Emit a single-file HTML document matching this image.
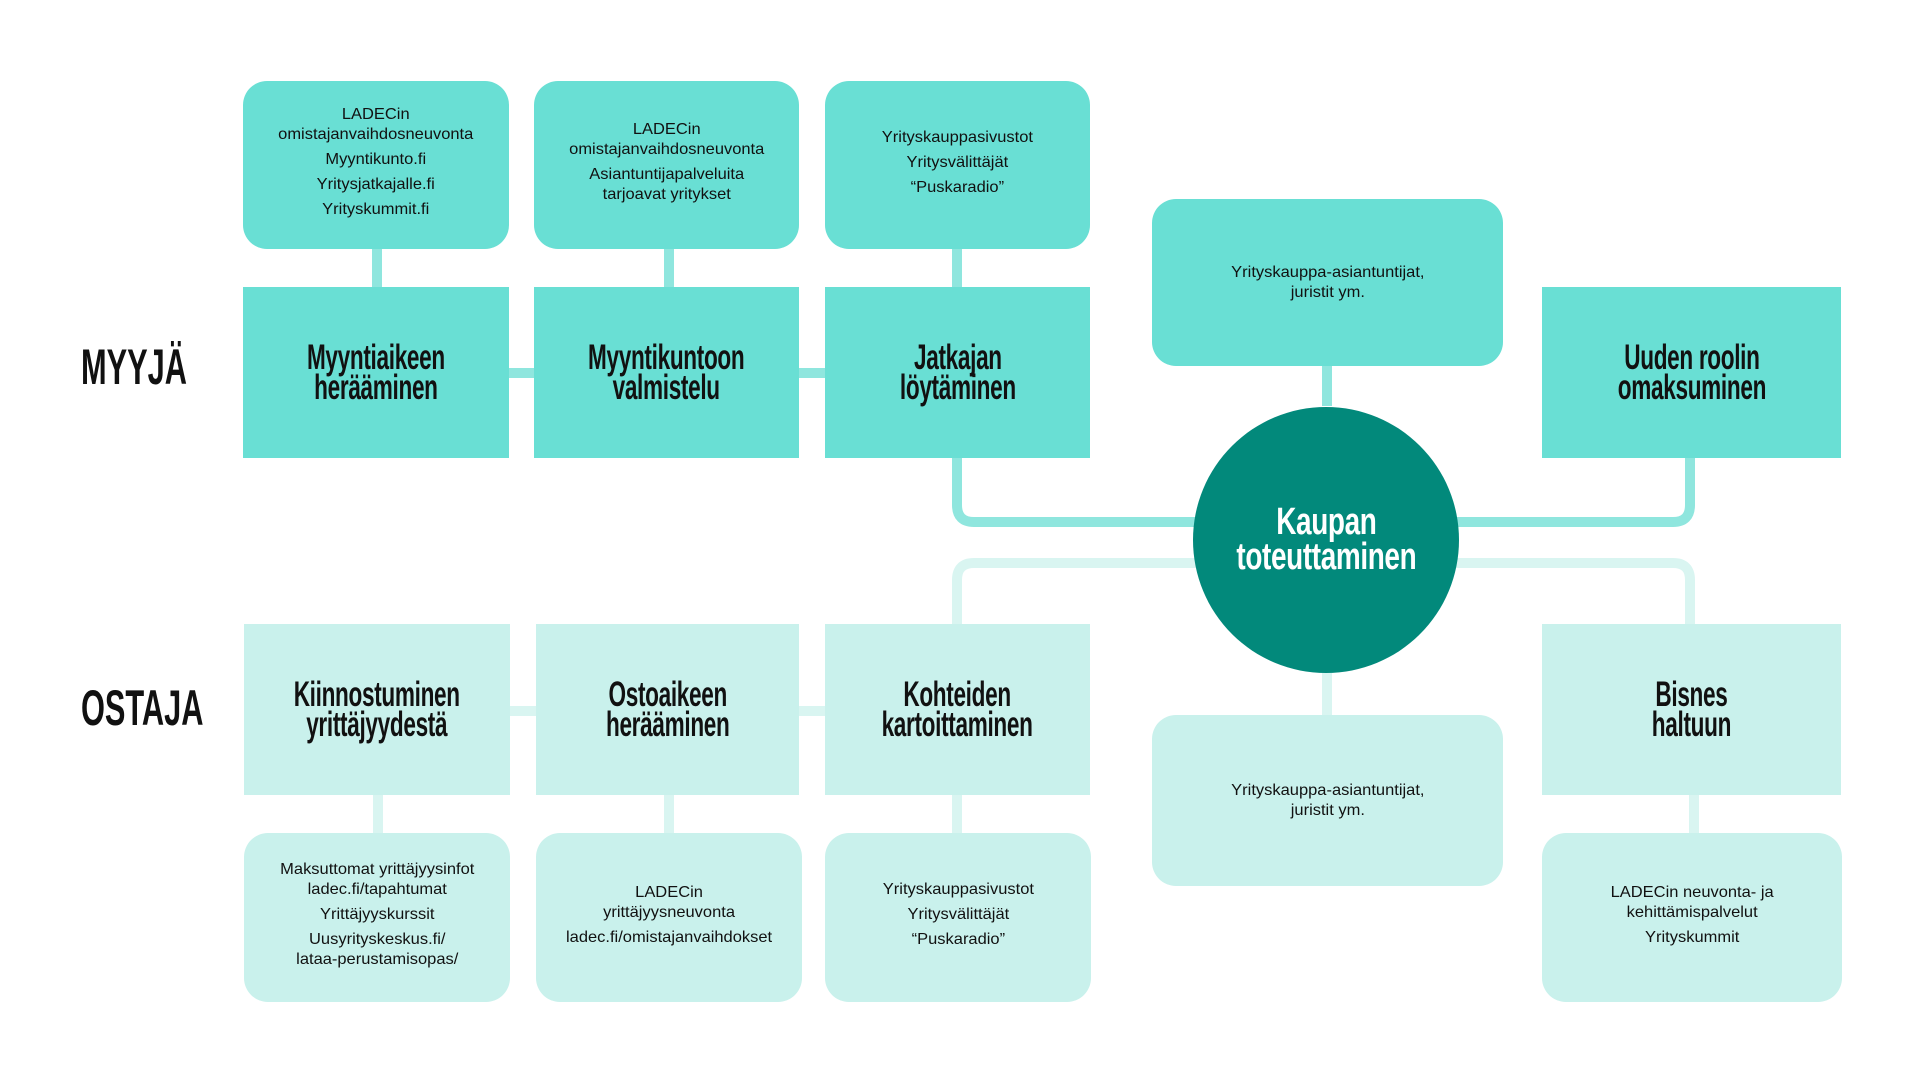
<!DOCTYPE html>
<html><head><meta charset="utf-8"><style>
body{margin:0;width:1920px;height:1080px;background:#fff;position:relative;overflow:hidden;font-family:"Liberation Sans",sans-serif}
.b{position:absolute;display:flex;align-items:center;justify-content:center;text-align:center;color:#111}
.t{background:#69dfd4}
.l{background:#c9f1ec}
.r{border-radius:24px}
.big span{display:inline-block;font-weight:bold;font-size:35px;line-height:30px;transform:scaleX(0.645);white-space:nowrap;letter-spacing:-0.5px}
.sm span{display:inline-block;font-size:16px;line-height:20px;transform:scaleX(1.03);white-space:nowrap}
.sm p{margin:0 0 5px}
.lab{position:absolute;font-weight:bold;font-size:50px;transform:scaleX(0.615);transform-origin:left center;color:#111}
.c{position:absolute}
</style></head><body>
<svg class="c" style="left:0;top:0" width="1920" height="1080">
<g fill="none" stroke-width="10">
<path d="M957 458 V505 Q957 522 974 522 H1200" stroke="#8fe6de"/>
<path d="M1690 458 V505 Q1690 522 1673 522 H1450" stroke="#8fe6de"/>
<path d="M1200 563 H974 Q957 563 957 580 V624" stroke="#d9f5f1"/>
<path d="M1450 563 H1673 Q1690 563 1690 580 V624" stroke="#d9f5f1"/>
</g>
<g fill="#8fe6de">
<rect x="372" y="249" width="10" height="38"/><rect x="664" y="249" width="10" height="38"/><rect x="952" y="249" width="10" height="38"/>
<rect x="509" y="368" width="25" height="10"/><rect x="799" y="368" width="26" height="10"/>
<rect x="1322" y="366" width="10" height="40"/>
</g>
<g fill="#d9f5f1">
<rect x="373" y="795" width="10" height="38"/><rect x="664" y="795" width="10" height="38"/><rect x="952" y="795" width="10" height="38"/>
<rect x="510" y="706" width="26" height="10"/><rect x="799" y="706" width="26" height="10"/>
<rect x="1322" y="673" width="10" height="42"/><rect x="1689" y="795" width="10" height="38"/>
</g>
<circle cx="1326" cy="540" r="133" fill="#02897b"/>
</svg>
<div class="lab" style="left:81px;top:338px">MYYJÄ</div>
<div class="lab" style="left:81px;top:679px">OSTAJA</div>

<div class="b t r sm" style="left:243px;top:81px;width:266px;height:168px"><span><p>LADECin<br>omistajanvaihdosneuvonta</p><p>Myyntikunto.fi</p><p>Yritysjatkajalle.fi</p><p>Yrityskummit.fi</p></span></div>
<div class="b t r sm" style="left:534px;top:81px;width:265px;height:168px"><span><p>LADECin<br>omistajanvaihdosneuvonta</p><p>Asiantuntijapalveluita<br>tarjoavat yritykset</p></span></div>
<div class="b t r sm" style="left:825px;top:81px;width:265px;height:168px"><span><p>Yrityskauppasivustot</p><p>Yritysvälittäjät</p><p>“Puskaradio”</p></span></div>
<div class="b t r sm" style="left:1152px;top:199px;width:351px;height:167px"><span>Yrityskauppa-asiantuntijat,<br>juristit ym.</span></div>

<div class="b t big" style="left:243px;top:287px;width:266px;height:171px"><span>Myyntiaikeen<br>herääminen</span></div>
<div class="b t big" style="left:534px;top:287px;width:265px;height:171px"><span>Myyntikuntoon<br>valmistelu</span></div>
<div class="b t big" style="left:825px;top:287px;width:265px;height:171px"><span>Jatkajan<br>löytäminen</span></div>
<div class="b t big" style="left:1542px;top:287px;width:299px;height:171px"><span>Uuden roolin<br>omaksuminen</span></div>

<div class="b big" style="left:1193px;top:480px;width:266px;height:120px;color:#fff"><span style="font-size:38px;line-height:35px;transform:scaleX(0.735)">Kaupan<br>toteuttaminen</span></div>

<div class="b l big" style="left:244px;top:624px;width:266px;height:171px"><span>Kiinnostuminen<br>yrittäjyydestä</span></div>
<div class="b l big" style="left:536px;top:624px;width:263px;height:171px"><span>Ostoaikeen<br>herääminen</span></div>
<div class="b l big" style="left:825px;top:624px;width:265px;height:171px"><span>Kohteiden<br>kartoittaminen</span></div>
<div class="b l big" style="left:1542px;top:624px;width:299px;height:171px"><span>Bisnes<br>haltuun</span></div>

<div class="b l r sm" style="left:1152px;top:715px;width:351px;height:171px"><span>Yrityskauppa-asiantuntijat,<br>juristit ym.</span></div>
<div class="b l r sm" style="left:244px;top:833px;width:266px;height:169px"><span><p>Maksuttomat yrittäjyysinfot<br>ladec.fi/tapahtumat</p><p>Yrittäjyyskurssit</p><p>Uusyrityskeskus.fi/<br>lataa-perustamisopas/</p></span></div>
<div class="b l r sm" style="left:536px;top:833px;width:266px;height:169px"><span><p>LADECin<br>yrittäjyysneuvonta</p><p>ladec.fi/omistajanvaihdokset</p></span></div>
<div class="b l r sm" style="left:825px;top:833px;width:266px;height:169px"><span><p>Yrityskauppasivustot</p><p>Yritysvälittäjät</p><p>“Puskaradio”</p></span></div>
<div class="b l r sm" style="left:1542px;top:833px;width:300px;height:169px"><span><p>LADECin neuvonta- ja<br>kehittämispalvelut</p><p>Yrityskummit</p></span></div>
</body></html>
